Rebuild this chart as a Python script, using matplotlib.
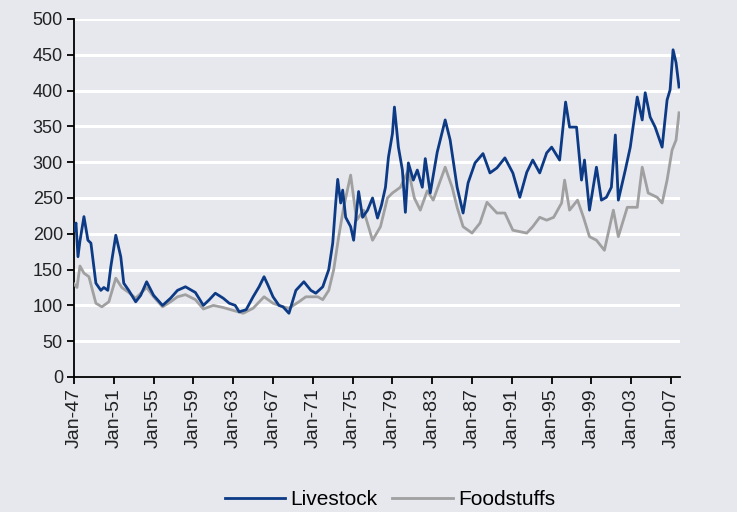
import numpy as np
import matplotlib
matplotlib.use("Agg")
import matplotlib.pyplot as plt

# Livestock index (decimal year, value)
live_years = [1947.0, 1947.2, 1947.4, 1947.6, 1948.0, 1948.4, 1948.7, 1949.2, 1949.7, 1950.0,
              1950.4, 1950.7, 1951.2, 1951.7, 1952.0, 1952.5, 1953.2, 1953.7, 1954.3, 1955.0,
              1955.9, 1956.7, 1957.4, 1958.2, 1959.2, 1960.0, 1960.6, 1961.2, 1962.0, 1962.6,
              1963.2, 1963.6, 1964.3, 1965.0, 1965.6, 1966.1, 1966.5, 1967.0, 1967.6, 1968.0,
              1968.6, 1969.3, 1970.1, 1970.8, 1971.3, 1972.0, 1972.6, 1973.0, 1973.3, 1973.5,
              1973.8, 1974.0, 1974.3, 1974.8, 1975.1, 1975.6, 1976.0, 1976.5, 1977.0, 1977.5,
              1977.9, 1978.3, 1978.6, 1979.0, 1979.2, 1979.6, 1980.0, 1980.3, 1980.6, 1981.1,
              1981.5, 1982.0, 1982.3, 1982.8, 1983.5, 1984.3, 1984.8, 1985.5, 1986.1, 1986.6,
              1987.3, 1988.1, 1988.8, 1989.5, 1990.3, 1991.1, 1991.8, 1992.5, 1993.1, 1993.8,
              1994.5, 1995.0, 1995.8, 1996.4, 1996.8, 1997.5, 1998.0, 1998.3, 1998.8, 1999.5,
              2000.0, 2000.5, 2001.0, 2001.4, 2001.7, 2002.4, 2002.9, 2003.6, 2004.1, 2004.4,
              2004.9, 2005.4, 2006.1, 2006.6, 2006.9, 2007.2, 2007.5, 2007.8]
livestock = [205, 215, 168, 190, 224, 191, 187, 131, 121, 125,
             121, 154, 198, 168, 131, 121, 105, 114, 133, 114,
             100, 110, 121, 126, 118, 100, 108, 117, 110, 103,
             100, 91, 94, 112, 126, 140, 128, 112, 100, 98,
             89, 121, 133, 121, 117, 126, 150, 187, 243, 276,
             243, 261, 223, 210, 191, 259, 223, 233, 250, 222,
             240, 265, 307, 340, 377, 321, 289, 230, 299, 275,
             289, 265, 305, 257, 314, 359, 331, 265, 229, 271,
             299, 312, 285, 292, 306, 285, 251, 286, 303, 285,
             313, 321, 303, 384, 349, 349, 275, 303, 233, 293,
             247, 251, 265, 338, 247, 289, 321, 391, 359, 397,
             363, 349, 321, 387, 401, 457, 439, 405]

# Foodstuffs index
food_years = [1947.0, 1947.3, 1947.6, 1948.0, 1948.5, 1949.2, 1949.8, 1950.5, 1951.2, 1951.8,
              1952.5, 1953.2, 1954.3, 1955.0, 1955.9, 1956.7, 1957.4, 1958.2, 1959.2, 1960.0,
              1961.0, 1962.0, 1963.0, 1964.0, 1965.0, 1966.1, 1967.0, 1968.0, 1968.6, 1969.6,
              1970.3, 1971.5, 1972.0, 1972.6, 1973.1, 1973.6, 1974.1, 1974.8, 1975.4, 1976.1,
              1977.0, 1977.8, 1978.5, 1979.0, 1979.8, 1980.6, 1981.2, 1981.8, 1982.5, 1983.1,
              1984.3, 1985.0, 1985.5, 1986.1, 1987.0, 1987.8, 1988.5, 1989.5, 1990.3, 1991.1,
              1992.5, 1993.1, 1993.8, 1994.5, 1995.2, 1996.0, 1996.3, 1996.8, 1997.6, 1998.2,
              1998.8, 1999.5, 2000.3, 2001.2, 2001.7, 2002.6, 2003.6, 2004.1, 2004.7, 2005.6,
              2006.1, 2006.6, 2007.1, 2007.5, 2007.8]
foodstuffs = [130, 125, 155, 145, 140, 103, 98, 105, 138, 125,
              118, 110, 125, 112, 98, 105, 112, 115, 108, 95,
              100, 97, 93, 89, 96, 112, 103, 98, 96, 105,
              112, 112, 108, 121, 150, 196, 237, 282, 219, 233,
              191, 210, 250, 257, 265, 289, 250, 233, 260, 247,
              293, 265, 237, 210, 201, 215, 244, 229, 229, 205,
              201, 210, 223, 219, 223, 243, 275, 233, 247, 223,
              196, 191, 177, 233, 196, 237, 237, 293, 257, 251,
              243, 275, 317, 331, 369]

tick_years = list(range(1947, 2008, 4))
tick_labels = ["Jan-%02d" % (y % 100) for y in tick_years]

bg = "#e6e8ee"
fig = plt.figure(figsize=(7.37, 5.12), dpi=100, facecolor=bg)
ax = fig.add_axes([0.1004, 0.2637, 0.8223, 0.6992], facecolor=bg)

ax.plot(food_years, foodstuffs, color="#a0a0a0", lw=2.0, label="Foodstuffs", zorder=3)
ax.plot(live_years, livestock, color="#0d3a85", lw=2.0, label="Livestock", zorder=4)

ax.set_xlim(1947, 2007.9)
ax.set_ylim(0, 500)
ax.set_yticks(np.arange(0, 501, 50))
ax.set_xticks(tick_years)
ax.set_xticklabels(tick_labels, rotation=90, fontsize=14, family="Liberation Sans", color="#222222")
for lab in ax.get_yticklabels():
    lab.set_fontsize(13)
    lab.set_family(["Liberation Sans Narrow", "Liberation Sans"])
    lab.set_color("#222222")

ax.yaxis.grid(True, color="white", lw=2.2)
ax.set_axisbelow(True)
for s in ["top", "right"]:
    ax.spines[s].set_visible(False)
for s in ["left", "bottom"]:
    ax.spines[s].set_linewidth(1.3)
ax.tick_params(axis="both", direction="out", length=5, width=1.3, pad=3)

h, l = ax.get_legend_handles_labels()
fig.legend(h[::-1], l[::-1], loc="center", bbox_to_anchor=(0.529, 0.024), ncol=2, frameon=False,
           prop={"family": "Liberation Sans", "size": 15}, handlelength=2.9, handletextpad=0.25,
           columnspacing=0.7, borderpad=0.1)

fig.savefig("out.png", dpi=100, facecolor=bg)
